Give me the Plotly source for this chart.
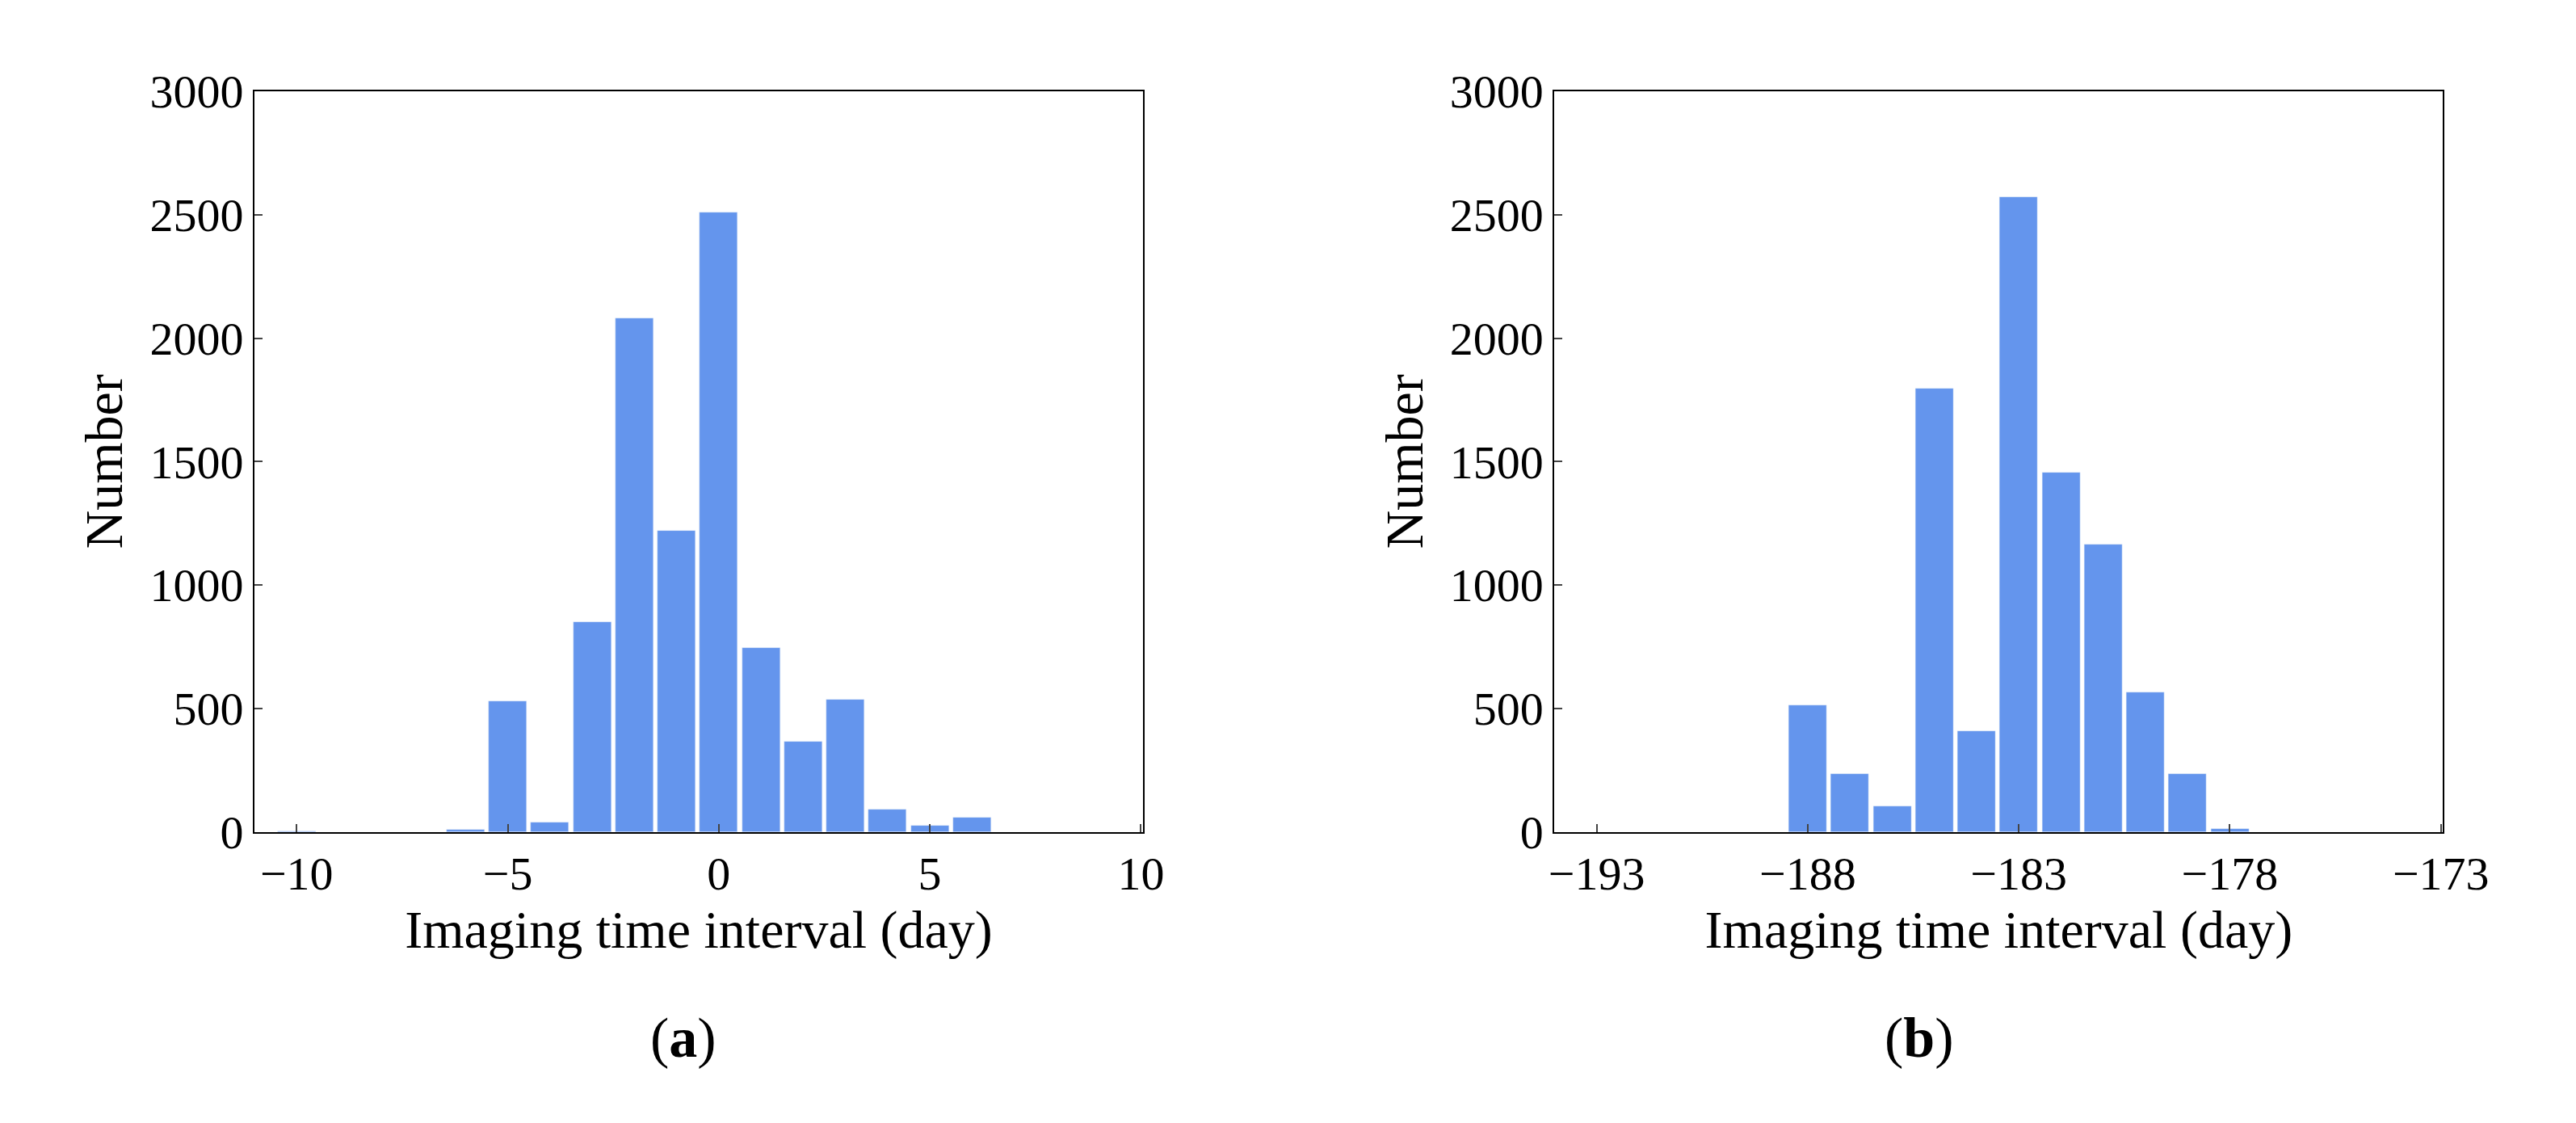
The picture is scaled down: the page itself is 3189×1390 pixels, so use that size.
import plotly.graph_objects as go

xa = [-10, -6, -5, -4, -3, -2, -1, 0, 1, 2, 3, 4, 5, 6]
ya = [3, 8, 530, 40, 850, 2080, 1220, 2510, 745, 365, 535, 90, 25, 60]
xb = [-188, -187, -186, -185, -184, -183, -182, -181, -180, -179, -178]
yb = [515, 235, 105, 1795, 410, 2570, 1455, 1165, 565, 235, 12]

color = "#6495ED"
font = "Liberation Serif"
fig = go.Figure()
fig.add_trace(go.Bar(x=xa, y=ya, marker_color=color, width=0.9, xaxis="x", yaxis="y"))
fig.add_trace(go.Bar(x=xb, y=yb, marker_color=color, width=0.9, xaxis="x2", yaxis="y2"))

common = dict(showline=True, linecolor="black", linewidth=2, mirror=True, ticks="inside",
              ticklen=10, tickwidth=2, showgrid=False, zeroline=False,
              tickfont=dict(size=58, family=font, color="black"))
title_font = dict(size=66, family=font, color="black")
fig.update_layout(
    width=3189, height=1390, plot_bgcolor="white", paper_bgcolor="white",
    showlegend=False, margin=dict(l=0, r=0, t=0, b=0), bargap=0,
    xaxis=dict(domain=[0.096, 0.448], range=[-11, 10.05], tickvals=[-10, -5, 0, 5, 10],
               ticktext=["\u221210", "\u22125", "0", "5", "10"],
               title=dict(text="Imaging time interval (day)", font=title_font, standoff=2), anchor="y", **common),
    yaxis=dict(domain=[0.253, 0.945], range=[0, 3000], dtick=500,
               title=dict(text="Number", font=title_font, standoff=12), anchor="x", **common),
    xaxis2=dict(domain=[0.611, 0.963], range=[-194, -172.95], tickvals=[-193, -188, -183, -178, -173],
                ticktext=["\u2212193", "\u2212188", "\u2212183", "\u2212178", "\u2212173"],
                title=dict(text="Imaging time interval (day)", font=title_font, standoff=2), anchor="y2", **common),
    yaxis2=dict(domain=[0.253, 0.945], range=[0, 3000], dtick=500,
                title=dict(text="Number", font=title_font, standoff=12), anchor="x2", **common),
    annotations=[
        dict(text="(<b>a</b>)", x=0.252, y=0.03, xref="paper", yref="paper", showarrow=False,
             font=dict(size=70, family=font, color="black")),
        dict(text="(<b>b</b>)", x=0.770, y=0.03, xref="paper", yref="paper", showarrow=False,
             font=dict(size=70, family=font, color="black")),
    ],
)
fig.write_html("out.html")
